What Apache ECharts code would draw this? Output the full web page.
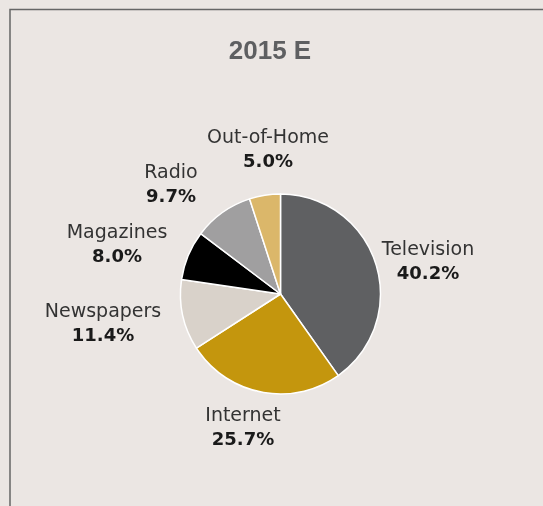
<!DOCTYPE html>
<html>
<head>
<meta charset="utf-8">
<style>
  html, body { margin: 0; padding: 0; background: #ebe6e3; }
  #chart { width: 543px; height: 506px; }
</style>
<script src="https://cdn.jsdelivr.net/npm/echarts@6/dist/echarts.min.js"></script>
</head>
<body>
<div id="chart"></div>
<script>
// Media ad-spend share, 2015 estimate
const categories = ['Television', 'Internet', 'Newspapers', 'Magazines', 'Radio', 'Out-of-Home'];
const shares = [40.2, 25.7, 11.4, 8.0, 9.7, 5.0];
const sliceColors = ['#5f6062', '#c4960d', '#d9d2ca', '#000000', '#a09fa0', '#dbb76a'];

// Where each two-line label block is centred
const labelAnchors = [[428, 262], [243, 428], [103, 324.5], [117, 245], [171, 185.5], [268, 150]];

const chart = echarts.init(document.getElementById('chart'), null, { renderer: 'canvas' });

chart.setOption({
  backgroundColor: '#ebe6e3',
  animation: false,
  graphic: [{
    type: 'rect',
    silent: true,
    shape: { x: 10, y: 9.5, width: 700, height: 700 },
    style: { fill: 'none', stroke: '#666666', lineWidth: 1.5 }
  }, {
    type: 'text',
    silent: true,
    x: 270,
    y: 52,
    style: {
      text: '2015 E',
      fontFamily: 'Liberation Sans',
      fontWeight: 'bold',
      fontSize: 26,
      fill: '#5e5f61',
      align: 'center',
      verticalAlign: 'middle'
    }
  }],
  series: [{
    type: 'pie',
    center: [280.5, 294],
    radius: 100,
    startAngle: 90,
    clockwise: true,
    avoidLabelOverlap: false,
    itemStyle: { borderColor: '#ffffff', borderWidth: 1.5 },
    emphasis: { disabled: true },
    labelLine: { show: false },
    label: {
      show: true,
      position: 'outside',
      align: 'center',
      formatter: p => '{n|' + p.name + '}\n{p|' + p.value.toFixed(1) + '%}',
      rich: {
        n: { fontFamily: 'DejaVu Sans', fontSize: 19, lineHeight: 24, color: '#333333', align: 'center' },
        p: { fontFamily: 'DejaVu Sans', fontWeight: 'bold', fontSize: 18, lineHeight: 24, color: '#1a1a1a', align: 'center' }
      }
    },
    labelLayout: params => {
      const a = labelAnchors[params.dataIndex];
      return { x: a[0], y: a[1], align: 'center', verticalAlign: 'middle' };
    },
    data: categories.map((name, i) => ({
      name: name,
      value: shares[i],
      itemStyle: { color: sliceColors[i] }
    }))
  }]
});
</script>
</body>
</html>
